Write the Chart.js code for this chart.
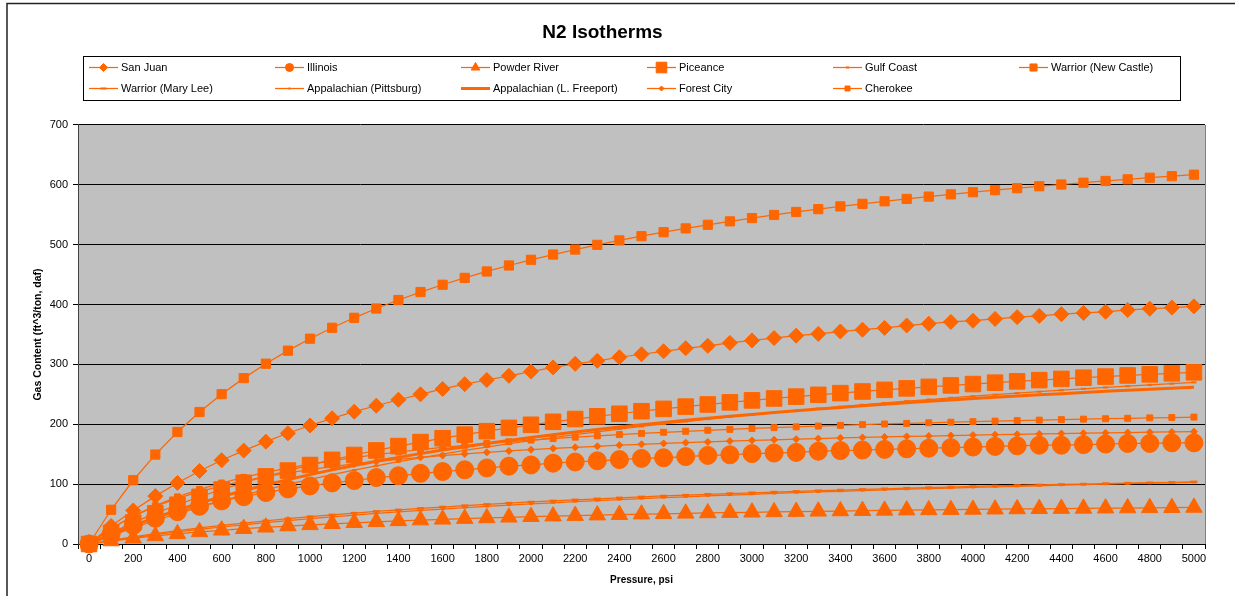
<!DOCTYPE html>
<html>
<head>
<meta charset="utf-8">
<title>N2 Isotherms</title>
<script src="https://cdn.jsdelivr.net/npm/chart.js@4.4.1/dist/chart.umd.min.js"></script>
<style>
  html, body { margin: 0; padding: 0; background: #ffffff; }
  #wrap { width: 1235px; height: 596px; position: relative; overflow: hidden; }
  canvas { display: block; }
</style>
</head>
<body>
<div id="wrap"><canvas id="chart" width="1235" height="596"></canvas></div>
<script>
// ---------------- DATA ----------------
const pressureLabels = ['0','100','200','300','400','500','600','700','800','900','1000','1100','1200','1300','1400','1500','1600','1700','1800','1900','2000','2100','2200','2300','2400','2500','2600','2700','2800','2900','3000','3100','3200','3300','3400','3500','3600','3700','3800','3900','4000','4100','4200','4300','4400','4500','4600','4700','4800','4900','5000'];

const sanJuan = [0,30,56,80,102,122,140,156,171,185,198,210,221,231,241,250,259,267,274,281,288,295,301,306,312,317,322,327,331,336,340,344,348,351,355,358,361,365,368,371,373,376,379,381,384,386,388,391,393,395,397];

const illinois = [0,17,31,43,54,63,72,79,86,92,97,102,106,111,114,118,121,124,127,130,132,135,137,139,141,143,144,146,148,149,151,152,153,155,156,157,158,159,160,161,162,163,164,165,165,166,167,168,168,169,169];

const powderRiver = [0,5.0,9.5,13.4,16.9,20.1,22.9,25.5,27.9,30.0,32.0,33.8,35.5,37.1,38.6,39.9,41.2,42.4,43.5,44.6,45.6,46.5,47.4,48.2,49.0,49.8,50.5,51.2,51.8,52.4,53.0,53.6,54.1,54.6,55.1,55.6,56.1,56.5,56.9,57.3,57.7,58.1,58.5,58.8,59.2,59.5,59.8,60.1,60.4,60.7,61.0];

const piceance = [0,18.6,35.7,51.2,65.6,78.8,91.0,102.3,112.9,122.7,131.9,140.6,148.7,156.3,163.5,170.3,176.7,182.7,188.5,194.0,199.2,204.1,208.8,213.3,217.6,221.8,225.7,229.5,233.1,236.6,239.9,243.1,246.2,249.2,252.0,254.8,257.5,260.0,262.5,264.9,267.2,269.5,271.7,273.8,275.8,277.8,279.7,281.6,283.4,285.1,286.8];

const gulfCoast = [0,13.9,27.0,39.3,50.8,61.7,72.0,81.7,90.9,99.7,108.0,115.9,123.4,130.6,137.5,144.0,150.3,156.3,162.0,167.5,172.8,177.9,182.8,187.5,192.0,196.4,200.6,204.6,208.6,212.3,216.0,219.5,223.0,226.3,229.5,232.6,235.6,238.6,241.4,244.2,246.9,249.5,252.0,254.5,256.9,259.2,261.5,263.7,265.8,267.9,270.0];

const warriorNewCastle = [0,57.2,106.5,149.4,187.1,220.5,250.3,277.1,301.2,323.0,343.0,361.2,377.9,393.4,407.6,420.9,433.1,444.6,455.3,465.3,474.8,483.6,491.9,499.8,507.2,514.3,520.9,527.3,533.3,539.0,544.5,549.7,554.7,559.4,564.0,568.3,572.5,576.5,580.4,584.1,587.7,591.1,594.4,597.6,600.6,603.6,606.5,609.2,611.9,614.5,617.0];

const warriorMaryLee = [0,6.2,12.0,17.3,22.2,26.8,31.1,35.0,38.8,42.3,45.6,48.7,51.6,54.4,57.0,59.5,61.8,64.1,66.2,68.2,70.2,72.0,73.8,75.5,77.1,78.7,80.2,81.6,83.0,84.3,85.6,86.8,88.0,89.1,90.2,91.3,92.3,93.3,94.3,95.2,96.1,97.0,97.8,98.7,99.5,100.2,101.0,101.7,102.4,103.1,103.8];

const appalachianPittsburg = [0,5.5,10.7,15.6,20.1,24.3,28.4,32.1,35.7,39.1,42.3,45.3,48.2,51.0,53.6,56.1,58.4,60.7,62.9,65.0,67.0,68.9,70.7,72.5,74.2,75.8,77.4,78.9,80.4,81.8,83.1,84.4,85.7,86.9,88.1,89.3,90.4,91.5,92.5,93.5,94.5,95.5,96.4,97.3,98.2,99.1,99.9,100.7,101.5,102.3,103.0];

const appalachianFreeport = [0,15.9,30.6,44.1,56.7,68.3,79.1,89.3,98.7,107.6,115.9,123.8,131.1,138.1,144.7,151.0,156.9,162.6,167.9,173.0,177.9,182.6,187.0,191.3,195.3,199.2,203.0,206.6,210.0,213.3,216.5,219.6,222.5,225.4,228.2,230.8,233.4,235.9,238.3,240.6,242.9,245.0,247.2,249.2,251.2,253.1,255.0,256.8,258.6,260.3,262.0];

const forestCity = [0,26.0,46.3,62.7,76.2,87.5,97.1,105.4,112.6,118.9,124.4,129.4,133.8,137.8,141.4,144.7,147.8,150.5,153.1,155.4,157.6,159.7,161.5,163.3,165.0,166.5,168.0,169.3,170.6,171.9,173.0,174.1,175.2,176.1,177.1,178.0,178.8,179.7,180.4,181.2,181.9,182.6,183.2,183.9,184.5,185.1,185.6,186.2,186.7,187.2,187.7];

const cherokee = [0,25.8,46.7,64.1,78.7,91.1,101.9,111.3,119.5,126.8,133.4,139.2,144.5,149.3,153.7,157.7,161.4,164.8,168.0,170.9,173.6,176.1,178.5,180.7,182.8,184.8,186.6,188.3,190.0,191.5,193.0,194.4,195.7,197.0,198.2,199.4,200.5,201.5,202.5,203.5,204.4,205.3,206.2,207.0,207.8,208.6,209.3,210.0,210.7,211.3,212.0];

const yTicks = [0,100,200,300,400,500,600,700];

// ---------------- STYLE ----------------
const ORANGE = '#FF6600';
const FONT = '"Liberation Sans", Arial, Helvetica, sans-serif';
Chart.defaults.font.family = FONT;
Chart.defaults.color = '#000';

function series(label, data, pointStyle, radius, opts) {
  opts = opts || {};
  return {
    label: label,
    data: data,
    borderColor: ORANGE,
    backgroundColor: ORANGE,
    borderWidth: opts.lineWidth || 1.25,
    pointStyle: pointStyle || 'circle',
    pointRadius: radius,
    pointHoverRadius: radius,
    pointBackgroundColor: ORANGE,
    pointBorderColor: ORANGE,
    pointBorderWidth: opts.pointBorderWidth != null ? opts.pointBorderWidth : 1,
    tension: 0,
    fill: false,
    clip: false,
    legStyle: pointStyle,
    legRadius: opts.legRadius || 0,
    legBorder: opts.legBorder != null ? opts.legBorder : 1,
    legLine: opts.lineWidth || 1.25
  };
}

const datasets = [
  series('San Juan', sanJuan, 'rectRot', 7.5, {legRadius: 4}),
  series('Illinois', illinois, 'circle', 9, {legRadius: 4}),
  series('Powder River', powderRiver, 'triangle', 9.5, {legRadius: 5}),
  series('Piceance', piceance, 'rect', 11, {legRadius: 7.5}),
  series('Gulf Coast', gulfCoast, 'line', 2.5, {pointBorderWidth: 2, legRadius: 1.5, legBorder: 2}),
  series('Warrior (New Castle)', warriorNewCastle, 'rect', 6.5, {legRadius: 5}),
  series('Warrior (Mary Lee)', warriorMaryLee, 'line', 3.5, {pointBorderWidth: 2.5, legRadius: 3, legBorder: 2}),
  series('Appalachian (Pittsburg)', appalachianPittsburg, 'line', 2, {pointBorderWidth: 2, legRadius: 1, legBorder: 2}),
  series('Appalachian (L. Freeport)', appalachianFreeport, false, 0, {lineWidth: 3, legRadius: 0}),
  series('Forest City', forestCity, 'rectRot', 3.5, {legRadius: 2.5}),
  series('Cherokee', cherokee, 'rect', 4.2, {legRadius: 3.5})
];
// later series drawn on top (as in the original)
datasets.forEach((d, i) => { d.order = datasets.length - i; });

// ---------------- PLUGINS ----------------
const framePlugin = {
  id: 'frame',
  beforeDraw(chart) {
    const ctx = chart.ctx, a = chart.chartArea;
    ctx.save();
    ctx.fillStyle = '#ffffff';
    ctx.fillRect(0, 0, chart.width, chart.height);
    ctx.strokeStyle = '#222';
    ctx.lineWidth = 1.5;
    ctx.strokeRect(7, 3.5, 1400, 800);
    ctx.fillStyle = '#C0C0C0';
    ctx.fillRect(a.left, a.top, a.right - a.left, a.bottom - a.top);
    ctx.strokeStyle = '#808080';
    ctx.lineWidth = 1;
    ctx.beginPath();
    ctx.moveTo(a.right + 0.5, a.top);
    ctx.lineTo(a.right + 0.5, a.bottom);
    ctx.stroke();
    ctx.restore();
  }
};

function drawMarker(ctx, style, radius, x, y, bw) {
  if (!style || !radius) return;
  const opts = {pointStyle: style, radius: radius, rotation: 0, borderWidth: bw};
  if (Chart.helpers && Chart.helpers.drawPoint) {
    Chart.helpers.drawPoint(ctx, opts, x, y);
  }
}

const legendPlugin = {
  id: 'excelLegend',
  afterDraw(chart) {
    const ctx = chart.ctx;
    ctx.save();
    ctx.strokeStyle = '#000';
    ctx.lineWidth = 1;
    ctx.strokeRect(83.5, 56.5, 1097, 44);
    ctx.font = '11px ' + FONT;
    ctx.textBaseline = 'middle';
    ctx.textAlign = 'left';
    chart.data.datasets.forEach((ds, i) => {
      const col = i % 6, row = Math.floor(i / 6);
      const tx = 121 + 186 * col;
      const ty = 67.5 + 21 * row;
      ctx.strokeStyle = ORANGE;
      ctx.fillStyle = ORANGE;
      ctx.lineWidth = ds.legLine;
      ctx.beginPath();
      ctx.moveTo(tx - 32, ty);
      ctx.lineTo(tx - 3, ty);
      ctx.stroke();
      ctx.lineWidth = ds.legBorder;
      drawMarker(ctx, ds.legStyle, ds.legRadius, tx - 17.5, ty, ds.legBorder);
      ctx.fillStyle = '#000';
      ctx.fillText(ds.label, tx, ty + 0.5);
    });
    ctx.restore();
  }
};

// ---------------- CHART ----------------
new Chart(document.getElementById('chart'), {
  type: 'line',
  data: { labels: pressureLabels, datasets: datasets },
  options: {
    responsive: false,
    animation: false,
    events: [],
    devicePixelRatio: 1,
    layout: { padding: { left: 0, right: 30, top: 0, bottom: 0 } },
    plugins: {
      legend: { display: false },
      tooltip: { enabled: false },
      title: {
        display: true,
        text: 'N2 Isotherms',
        color: '#000',
        font: { size: 19, weight: 'bold', family: FONT, lineHeight: 1.2 },
        padding: { top: 21.6, bottom: 80.6 }
      }
    },
    scales: {
      x: {
        type: 'category',
        offset: true,
        grid: {
          display: true,
          offset: true,
          drawOnChartArea: false,
          drawTicks: true,
          tickLength: 5,
          color: '#000',
          tickColor: '#000'
        },
        border: { display: true, color: '#000', width: 1 },
        ticks: {
          autoSkip: false,
          maxRotation: 0,
          minRotation: 0,
          padding: 3,
          color: '#000',
          font: { size: 11, family: FONT },
          callback: function(value, index) {
            return index % 2 === 0 ? this.getLabelForValue(value) : '';
          }
        },
        title: {
          display: true,
          text: 'Pressure, psi',
          color: '#000',
          font: { size: 10, weight: 'bold', family: FONT, lineHeight: 1.2 },
          padding: { top: 10, bottom: 10 }
        },
        afterFit(scale) { scale.height = 52; }
      },
      y: {
        min: 0,
        max: 700,
        afterBuildTicks(scale) { scale.ticks = yTicks.map(v => ({ value: v })); },
        grid: {
          display: true,
          drawOnChartArea: true,
          drawTicks: true,
          tickLength: 5,
          color: '#000',
          tickColor: '#000',
          lineWidth: 1
        },
        border: { display: true, color: '#404040', width: 1 },
        ticks: {
          padding: 5,
          color: '#000',
          font: { size: 11, family: FONT }
        },
        title: {
          display: true,
          text: 'Gas Content (ft^3/ton, daf)',
          color: '#000',
          font: { size: 10.5, weight: 'bold', family: FONT, lineHeight: 1.2 },
          padding: { top: 32, bottom: 32 }
        },
        afterFit(scale) { scale.width = 78; }
      }
    }
  },
  plugins: [framePlugin, legendPlugin]
});
</script>
</body>
</html>
